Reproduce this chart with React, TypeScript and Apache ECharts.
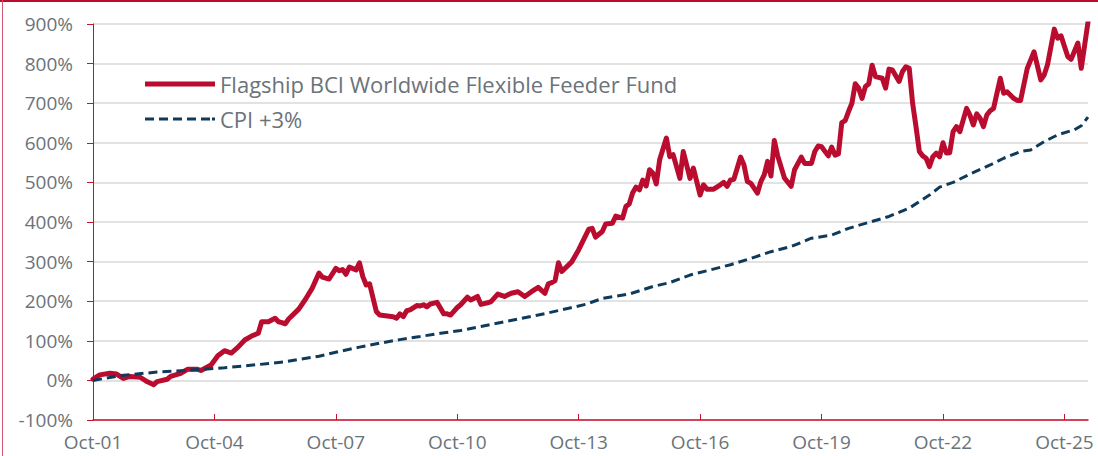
import React, { useEffect, useRef } from "react";
import * as echarts from "echarts";

// Monthly category axis: Oct-01 .. May-26
const MONTH_NAMES = ["Jan", "Feb", "Mar", "Apr", "May", "Jun", "Jul", "Aug", "Sep", "Oct", "Nov", "Dec"];
const START_YEAR = 2001;
const START_MONTH = 9; // October (0-based)
const MONTH_COUNT = 296;
const categories: string[] = Array.from({ length: MONTH_COUNT }, (_, i) => {
  const t = START_MONTH + i;
  const y = START_YEAR + Math.floor(t / 12);
  return `${MONTH_NAMES[t % 12]}-${String(y % 100).padStart(2, "0")}`;
});

const FUND_NAME = "Flagship BCI Worldwide Flexible Feeder Fund";
const CPI_NAME = "CPI +3%";

// Cumulative return (%) — month offsets from Oct-01 and values
const fundMonths = [
  0, 2, 5, 7, 9, 11, 14, 16, 18, 19, 22, 23, 26, 28, 31, 32, 35, 37, 39, 41, 43, 45, 47, 49, 50, 52, 54, 55, 56, 57, 58,
  61, 63, 65, 67, 68, 70, 72, 73, 74, 75, 76, 78, 79, 80, 81, 82, 84, 85, 89, 90, 91, 92, 93, 94, 96, 97, 98, 99, 100,
  102, 104, 105, 106, 108, 109, 111, 112, 114, 115, 117, 118, 120, 122, 124, 126, 128, 130, 132, 134, 135, 136, 137,
  138, 139, 142, 144, 147, 148, 149, 151, 152, 154, 155, 157, 158, 159, 160, 161, 162, 163, 164, 165, 166, 167, 168,
  170, 171, 172, 174, 175, 177, 178, 180, 181, 182, 184, 186, 187, 188, 189, 190, 192, 193, 194, 195, 197, 198, 199,
  200, 201, 202, 203, 205, 207, 208, 210, 211, 213, 214, 215, 216, 218, 219, 220, 221, 222, 223, 224, 225, 226, 227,
  228, 229, 230, 231, 232, 234, 235, 236, 237, 239, 240, 241, 242, 243, 244, 245, 246, 247, 248, 249, 250, 251, 252,
  253, 254, 255, 256, 257, 259, 260, 261, 262, 263, 264, 265, 266, 267, 269, 270, 271, 273, 274, 275, 277, 279, 281,
  282, 283, 285, 286, 287, 289, 290, 292, 293, 295,
];
const fundValues = [
  3, 14, 18, 16, 5, 10, 8, -3, -11, -3, 3, 10, 18, 28, 28, 25, 39, 62, 75, 69, 84, 102, 112, 119, 148, 148, 157, 148,
  146, 143, 155, 180, 205, 233, 271, 261, 256, 283, 277, 280, 268, 286, 279, 297, 262, 241, 244, 174, 165, 161, 157,
  168, 161, 176, 178, 189, 188, 191, 186, 193, 197, 168, 168, 165, 184, 191, 210, 203, 212, 192, 196, 199, 218, 212,
  220, 224, 212, 224, 235, 220, 244, 247, 252, 297, 275, 300, 330, 382, 384, 362, 376, 395, 397, 415, 410, 439, 446,
  474, 488, 481, 506, 491, 532, 523, 496, 557, 612, 565, 570, 510, 578, 510, 536, 468, 494, 483, 483, 494, 500, 490,
  506, 508, 564, 544, 502, 498, 473, 502, 519, 553, 516, 606, 567, 511, 490, 532, 564, 548, 548, 578, 592, 590, 567,
  589, 569, 572, 651, 656, 679, 700, 749, 738, 712, 742, 749, 796, 767, 763, 738, 786, 784, 755, 780, 792, 788, 700,
  641, 578, 567, 561, 540, 565, 574, 565, 600, 574, 575, 628, 641, 628, 687, 670, 645, 673, 662, 641, 670, 681, 687,
  763, 725, 729, 712, 707, 707, 788, 830, 759, 771, 797, 887, 864, 870, 818, 811, 852, 788, 905,
];

const cpiMonths = [
  0, 9, 19, 29, 39, 49, 57, 61, 67, 73, 79, 85, 91, 97, 103, 109, 115, 122, 132, 141, 146, 151, 159, 166, 171, 177,
  183, 189, 195, 201, 207, 213, 219, 224, 230, 236, 242, 248, 251, 255, 260, 266, 270, 275, 278, 282, 286, 291, 293,
  295,
];
const cpiValues = [
  0, 13, 21, 26, 32, 40, 47, 53, 61, 73, 84, 94, 103, 111, 119, 126, 136, 148, 165, 182, 192, 207, 218, 237, 247, 266,
  279, 292, 308, 325, 338, 359, 367, 384, 399, 414, 435, 468, 488, 500, 521, 544, 561, 578, 582, 603, 620, 633, 643,
  665,
];

const Y_MIN = -100;
const Y_MAX = 900;
const Y_STEP = 100;
const LABEL_EVERY = 36;

const FONT = "'Open Sans', 'Noto Sans', sans-serif";
const TEXT_COLOR = "#6b737a";
const RED = "#BA0C2F";
const NAVY = "#0E3A5C";
const AXIS_RED = "#C8102E";

// legend glyphs: solid bar and a dashed bar ending in a dot
const DASH_ICON =
  "path://M0,0h9v3h-9z M14,0h9v3h-9z M28,0h9v3h-9z M42,0h9v3h-9z M56,0h9v3h-9z M67,0h3v3h-3z";

export default function App() {
  const ref = useRef<HTMLDivElement>(null);

  useEffect(() => {
    if (!ref.current) return;
    const chart = echarts.init(ref.current, undefined, { renderer: "svg" });
    const fundData = fundMonths.map((m, i) => [m, fundValues[i]]);
    const cpiData = cpiMonths.map((m, i) => [m, cpiValues[i]]);

    chart.setOption({
      animation: false,
      backgroundColor: "#ffffff",
      grid: { left: 93, right: 10, top: 24, bottom: 36, containLabel: false },
      legend: {
        orient: "vertical",
        left: 140,
        top: 68,
        itemWidth: 70,
        itemHeight: 5,
        itemGap: 13,
        textStyle: { fontFamily: FONT, fontSize: 22, color: TEXT_COLOR },
        data: [
          { name: FUND_NAME, icon: "rect", itemStyle: { color: RED } },
          { name: CPI_NAME, icon: DASH_ICON, itemStyle: { color: NAVY } },
        ],
      },
      xAxis: {
        type: "category",
        data: categories,
        boundaryGap: false,
        axisLine: { onZero: false, lineStyle: { color: AXIS_RED, width: 1.5 } },
        axisTick: { show: true, inside: true, length: 6, interval: LABEL_EVERY - 1, lineStyle: { color: AXIS_RED } },
        axisLabel: {
          interval: LABEL_EVERY - 1,
          margin: 12,
          fontFamily: FONT,
          fontSize: 19,
          color: TEXT_COLOR,
        },
        splitLine: { show: false },
      },
      yAxis: {
        type: "value",
        min: Y_MIN,
        max: Y_MAX,
        interval: Y_STEP,
        axisLine: { show: true, lineStyle: { color: AXIS_RED, width: 1 } },
        axisTick: { show: true, length: 6, lineStyle: { color: AXIS_RED } },
        axisLabel: {
          formatter: "{value}%",
          margin: 20,
          fontFamily: FONT,
          fontSize: 19,
          color: TEXT_COLOR,
        },
        splitLine: { show: true, lineStyle: { color: "#D9D9D9", width: 1.5 } },
      },
      series: [
        {
          name: FUND_NAME,
          type: "line",
          data: fundData,
          symbol: "none",
          lineStyle: { color: RED, width: 5, join: "round", cap: "round" },
          itemStyle: { color: RED },
          z: 3,
        },
        {
          name: CPI_NAME,
          type: "line",
          data: cpiData,
          symbol: "none",
          lineStyle: { color: NAVY, width: 3, type: [9, 5] },
          itemStyle: { color: NAVY },
          z: 4,
        },
      ],
      graphic: [
        { type: "rect", shape: { x: 0, y: 0, width: 1098, height: 2 }, style: { fill: RED }, silent: true },
        { type: "rect", shape: { x: 2, y: 0, width: 1, height: 456 }, style: { fill: "#d35870" }, silent: true },
      ],
    });

    return () => chart.dispose();
  }, []);

  return (
    <div
      ref={ref}
      style={{ position: "fixed", left: 0, top: 0, width: 1098, height: 456, background: "#fff" }}
    />
  );
}
